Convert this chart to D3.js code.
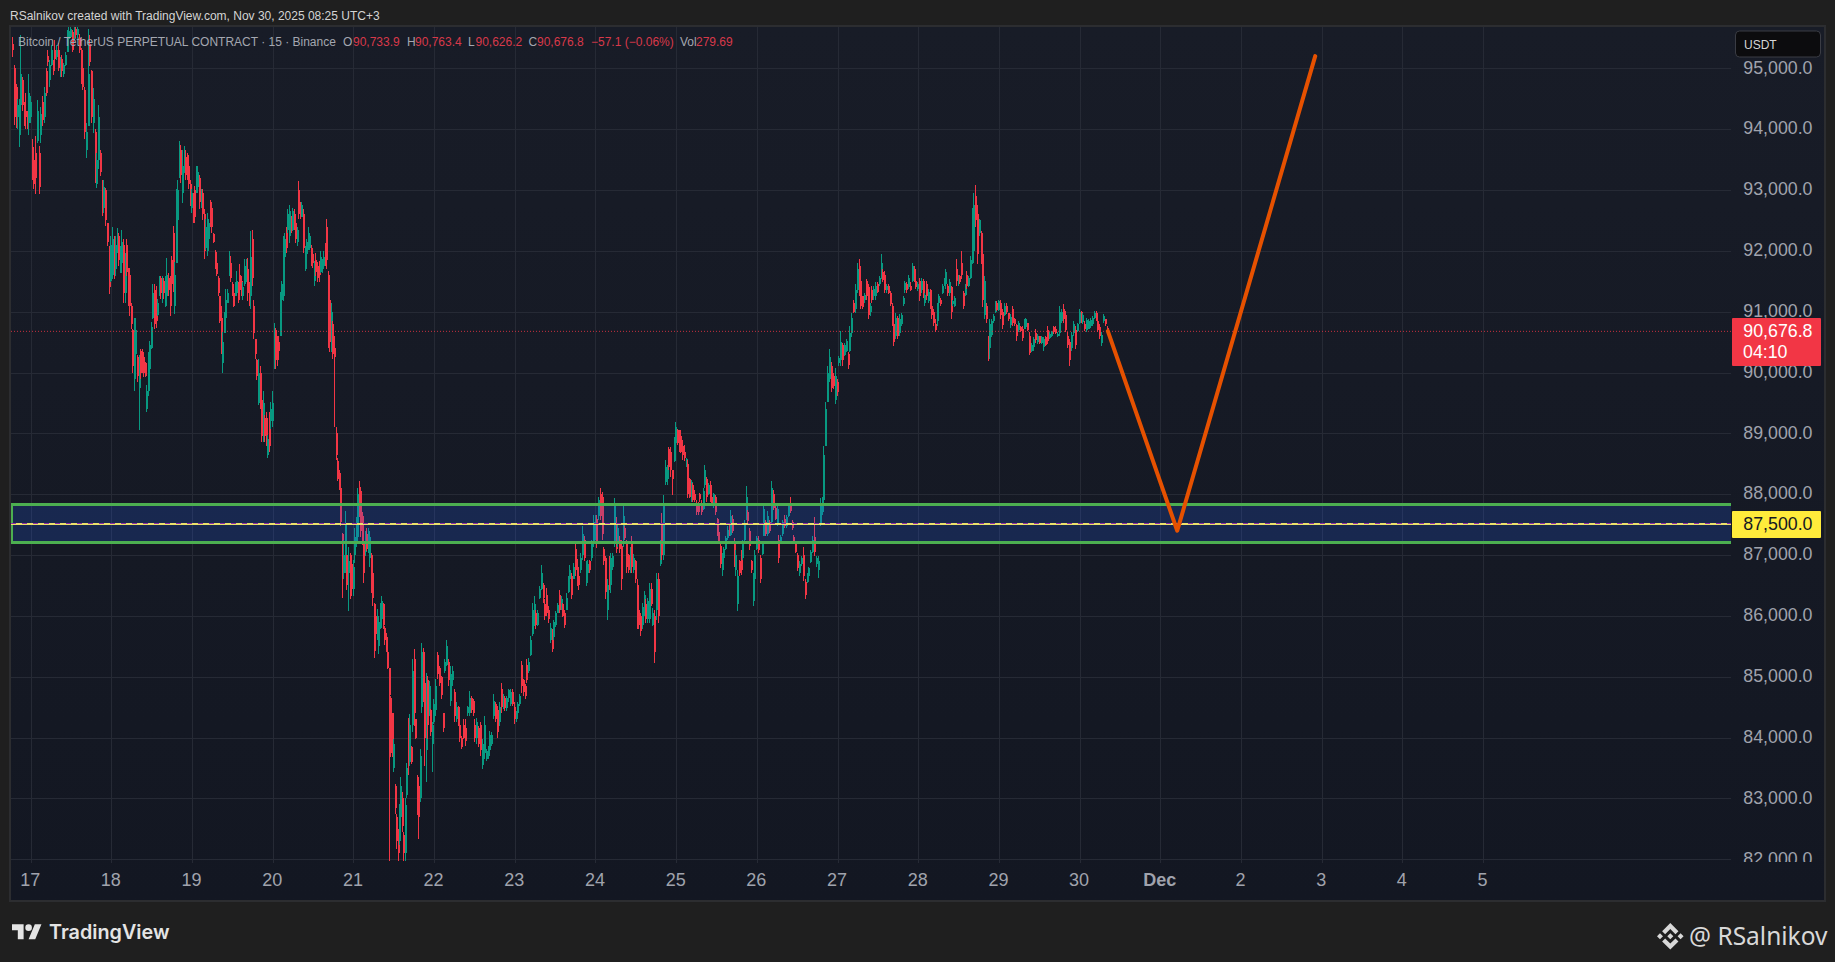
<!DOCTYPE html>
<html>
<head>
<meta charset="utf-8">
<title>BTCUSDT.P 15m</title>
<script src="https://cdn.jsdelivr.net/npm/d3@7"></script>
<style>
html, body { margin: 0; padding: 0; background: #1f1f1f; }
svg { display: block; }
text { font-family: "Liberation Sans", Arial, sans-serif; }
.grid line { stroke: #262a35; stroke-width: 1; shape-rendering: crispEdges; }
.grid path { display: none; }
.axis path, .axis line { display: none; }
.axis text { fill: #a0a3ad; font-size: 17.8px; }
</style>
</head>
<body>
<div id="chart"></div>
<script>
// candle rows are [open, high, low, close], one list per calendar day
const nov16 = [
[95400,95520,95180,95300],[95000,95050,94060,94200],[94700,94750,94020,94150],[94200,94500,94000,94400],
[93900,94500,93700,94300],[94400,95550,94100,94900],[94800,94850,94300,94400],[94400,94450,94050,94150],
[94300,94590,94000,94200],[94150,94300,94000,94050],[94100,94900,93900,94600],[94200,94550,94100,94450]];
const nov17 = [
[93700,93830,93170,93300],[93500,93660,93010,93100],[93600,93880,92930,93200],[93800,94480,93770,94300],
[93600,93720,92930,93050],[93900,94370,93770,94250],[94450,94540,94050,94150],[94200,94700,94100,94600],
[94950,95000,94540,94600],[95200,95300,95030,95100],[94800,95140,94700,95050],[95050,95380,95030,95300],
[95100,95140,94890,94950],[95300,95460,95080,95150],[95180,95380,95140,95300],[95300,95410,94950,95000],
[94900,95190,94860,95100],[95150,95220,94860,94950],[94900,95080,94860,95050],[95050,95270,95030,95220],
[95270,95630,95270,95550],[95480,95680,95460,95620],[95520,95700,95520,95650],[95600,95630,95270,95300],
[95480,95700,95460,95650],[95650,95700,95500,95550],[95550,95700,95500,95650],[95500,95570,95250,95300],
[95300,95330,94750,94800],[95000,95000,94650,94700],[94650,94700,93830,93950],[93650,94100,93530,93950],
[94050,95650,94050,94900],[95400,95550,95030,95100],[94950,94980,94100,94200],[94100,94670,93940,94500],
[93950,94000,93120,93250],[93100,93610,93030,93500],[93500,94400,93340,94200],[93600,93660,93230,93300],
[93150,93170,92570,92650],[92700,93170,92630,93050],[93000,93040,92410,92500],[92450,92460,92080,92150],
[92050,92080,91290,91400],[91500,92240,91480,92100]];
const nov18 = [
[91600,92400,91530,92200],[92150,92240,91530,91650],[91700,92240,91590,92100],[92000,92380,91970,92250],
[92250,92300,91750,91850],[91750,92080,91640,92000],[91800,92350,91640,92150],[92100,92190,91150,91300],
[91300,91970,91150,91800],[92100,92190,91590,91650],[91700,91720,91100,91200],[91600,91720,90930,91100],
[91100,91150,90710,90800],[90700,90710,90000,90100],[89900,90900,89700,90700],[90300,90900,90000,90700],
[90250,90280,89840,89950],[89750,90280,89050,90150],[90350,90390,89900,90000],[90300,90390,90000,90100],
[90250,90330,89920,90000],[90150,90170,89920,89950],[89400,89790,89350,89700],[89700,90330,89620,90200],
[90050,90520,90000,90450],[90400,90830,90390,90750],[90900,91450,90880,91300],[91350,91450,90710,90800],
[91200,91420,90740,90850],[90950,91210,90930,91150],[91300,91590,91260,91500],[91550,91590,91210,91300],
[91250,91590,91150,91500],[91500,91560,91210,91300],[91200,91590,91070,91500],[91250,91890,91100,91600],
[91550,91640,91260,91350],[91500,91590,90930,91100],[91850,91920,91370,91450],[92300,92410,91320,91500],
[91100,91810,90960,91600],[91800,93010,91810,92700],[92500,93170,92410,93000],[93200,93800,93230,93650],
[93650,93740,93120,93250],[92950,93660,92790,93400],[93350,93720,93280,93600],[93550,93660,93170,93250],
[93500,93610,93170,93250],[93400,93580,93010,93100],[93100,93170,92730,92800],[92700,93010,92630,92950]];
const nov19 = [
[92900,92950,92460,92550],[93000,93060,92460,92550],[92950,93390,92950,93300],[93050,93390,93060,93300],
[93200,93250,92680,92800],[92750,93010,92710,92950],[92950,93010,92510,92600],[92600,92680,91860,92000],
[92050,92520,92020,92400],[92000,92630,91920,92450],[92200,92520,92130,92450],[92750,92840,92400,92500],
[92700,92810,92300,92400],[92280,92300,92130,92150],[91980,92020,91700,91750],[91800,91830,91590,91620],
[91550,91590,91260,91300],[91250,91260,90820,90850],[90900,91100,90300,90400],[90150,90660,90000,90500],
[90650,90990,90660,90950],[90900,91370,90770,91200],[91150,91370,91150,91300],[91600,92000,91590,91900],
[91800,91920,91480,91550],[91450,91480,91260,91300],[91300,91370,91070,91100],[91300,91480,91260,91450],
[91300,91670,91260,91500],[91450,91480,91150,91200],[91600,91780,91260,91350],[91500,91590,91260,91350],
[91250,91480,91200,91400],[91450,91860,91420,91750],[91500,91860,91480,91750],[91700,91890,91180,91300],
[91400,91480,91100,91200],[91250,92320,91040,91900],[92200,92350,91420,91550],[91100,91200,90550,90650],
[90550,90550,90230,90300],[90200,90230,89870,89950],[89500,90230,89460,90000],[90000,90110,89400,89500],
[89550,89620,88860,88950],[89000,89700,88860,89500],[89250,89300,88860,88950],[89250,89350,88800,88900],
[88650,88970,88590,88900],[89250,89350,88690,88800],[89200,89510,89070,89400],[89200,89700,89100,89500]];
const nov20 = [
[90100,90820,90060,90600],[90700,90740,90060,90200],[90500,90600,90110,90200],[90500,90600,90300,90350],
[90600,91320,90600,91150],[91200,91510,91150,91450],[91250,92240,91180,92000],[91900,92300,91810,92200],
[92300,92400,91970,92050],[92350,92680,92300,92600],[92250,92760,92130,92650],[92500,92570,92300,92350],
[92350,92710,92320,92650],[92600,92680,92350,92400],[92450,92520,92130,92200],[92150,92400,92080,92350],
[93000,93150,92520,92600],[92750,92810,92520,92550],[92550,92810,92550,92750],[92600,92680,91970,92050],
[91700,92080,91670,92000],[91950,92190,91920,92150],[92100,92400,92020,92300],[92050,92300,92020,92250],
[92050,92100,91750,91800],[91950,92020,91720,91800],[91500,91830,91420,91750],[91850,91970,91590,91650],
[91750,91810,91480,91550],[91700,91830,91480,91600],[91650,91990,91640,91900],[91700,91860,91640,91800],
[91750,91990,91700,91900],[92050,92130,91750,91800],[92400,92520,91700,91850],[91600,91670,90410,90700],
[91200,91260,90330,90500],[90400,91150,90330,91000],[90800,90850,90220,90300],[90400,90600,89100,90250],
[89000,89100,88560,88650],[88550,88600,88210,88250],[88350,88400,88070,88100],[88100,88125,87470,87550],
[87350,87360,86300,86600],[86700,87250,86600,87000],[86900,87720,86700,87500],[87000,87000,86430,86500],
[86700,87140,86080,86900],[87000,87030,86270,86450],[86850,86920,86320,86450],[86450,86920,86320,86800]];
const nov21 = [
[87000,87440,86870,87300],[87200,87630,87140,87550],[87300,88100,87200,88000],[88100,88210,87630,87700],
[88050,88125,87300,87400],[87650,87710,87170,87250],[87200,87280,86540,86700],[87050,87390,86980,87300],
[87350,87440,87060,87100],[87050,87440,87030,87350],[86950,87390,86810,87300],[87000,87030,86380,86500],
[86700,86760,86160,86300],[86200,86210,85310,85800],[86000,86110,85420,85700],[85700,86110,85610,86000],
[85500,86000,85370,85900],[85800,86210,85780,86100],[85950,86320,85940,86250],[86200,86210,85780,85850],
[85800,85830,85530,85600],[85650,85720,85400,85450],[85400,85500,85120,85150],[85150,85150,81980,84700],
[84650,84690,83680,83750],[84400,84410,83680,83750],[83500,83980,83430,83900],[83200,83240,82750,82850],
[82700,82750,82170,82300],[82450,82500,81980,82100],[82300,82910,82230,82800],[82700,83350,82610,83200],
[83000,83100,82450,82550],[82400,82450,81980,82100],[82100,83000,81980,82900],[83050,83590,83000,83500],
[84200,84330,83380,83600],[83600,84380,83540,84200],[83850,83870,83570,83600],[84200,85290,84090,85100],
[85300,85450,84190,84400],[84300,84300,83980,84000],[83350,83380,82720,82800],[83200,83240,82340,82700],
[83000,83810,82940,83700],[84500,85560,84410,85400],[85400,85480,84580,84700],[84900,84930,83540,84000],
[83800,85070,83270,84800],[84950,85010,83980,84200],[84400,84930,84360,84850],[84450,84470,84030,84100],
[83900,84250,83430,84200],[84250,84630,84220,84550]];
const nov22 = [
[84450,84960,84360,84850],[85350,85400,84960,85050],[85150,85180,84850,84900],[85000,85010,84630,84700],
[84400,84410,84090,84150],[85100,85290,85070,85250],[85200,85610,85180,85500],[85250,85290,84850,84950],
[84600,85180,84520,85050],[84950,85180,84850,85100],[84750,84800,84250,84350],[84300,84580,84250,84500],
[84500,84520,84190,84250],[84200,84250,83920,84000],[84000,84030,83810,83850],[84200,84300,83980,84000],
[84150,84300,83870,83950],[84400,84520,84360,84500],[84400,84770,84360,84650],[84650,84690,84410,84450],
[84600,84630,84360,84400],[84200,84300,83920,84000],[84000,84330,83890,84250],[84150,84190,83840,83900],
[84200,84250,83700,83800],[83550,83980,83480,83900],[83750,84360,83650,84200],[83650,83810,83620,83780],
[83700,83870,83650,83850],[83800,84110,83700,84050],[83900,84090,83870,84050],[84350,84710,84300,84600],
[84550,84580,84250,84300],[84450,84520,84000,84100],[84250,84580,84190,84500],[84800,84900,84410,84500],
[84500,84710,84470,84680],[84650,84690,84440,84480],[84480,84690,84440,84650],[84650,84800,84580,84780],
[84550,84800,84520,84750],[84750,84800,84520,84550],[84500,84580,84220,84300]];
const nov23 = [
[84300,84440,84250,84400],[84400,84580,84360,84550],[84550,84710,84520,84680],[85200,85260,84740,84850],
[84950,84960,84690,84750],[84850,84880,84630,84680],[85200,85290,84900,84950],[85100,85310,85070,85250],
[85350,85670,85340,85600],[85700,86210,85670,86100],[85900,86320,85830,86200],[86050,86100,85780,85850],
[85850,86100,85830,86050],[86300,86490,86270,86450],[86450,86840,86430,86700],[86500,86540,86210,86300],
[86200,86270,85940,86000],[86350,86460,86000,86050],[86100,86160,85890,85950],[85600,85890,85560,85800],
[85700,85780,85400,85450],[85650,85940,85610,85900],[85850,86080,85810,86050],[86050,86210,86050,86180],
[86350,86430,86050,86100],[86100,86320,86100,86270],[86200,86210,85990,86000],[86050,86100,85800,85850],
[86100,86380,86100,86300],[86400,86650,86380,86600],[86600,86840,86540,86750],[86650,86700,86270,86350],
[86600,86870,86600,86800],[87100,87200,86650,86750],[86800,86930,86490,86550],[86650,86730,86430,86500],
[86750,87030,86700,86950],[87000,87470,86920,87350],[87250,87310,86900,86950],[86550,86900,86490,86800],
[86700,86920,86540,86850],[86900,86920,86700,86750],[86950,87250,86900,87200],[87200,87660,87140,87550],
[87300,87660,87250,87600]];
const nov24 = [
[87600,87660,87120,87200],[87650,87960,87580,87900],[88000,88100,87580,87650],[87950,88040,87250,87350],
[87100,87140,86840,86900],[86950,86980,86270,86400],[86100,86600,85940,86500],[86950,86980,86430,86500],
[86500,87030,86380,86950],[86800,87030,86760,86980],[87200,87930,87140,87800],[87500,87630,87030,87100],
[87200,87520,87140,87450],[87250,87310,87030,87100],[87150,87250,86430,86600],[87250,87800,87140,87650],
[87450,87470,87250,87280],[87200,87250,86710,86800],[87000,87010,86710,86750],[86800,87140,86710,87050],
[87200,87310,86710,86800],[86750,87010,86710,86950],[86900,86920,86540,86600],[86500,86600,85780,85900],
[86100,86160,85780,85850],[86000,86050,85670,85750],[85850,86210,85780,86150],[86100,86410,86000,86350],
[86200,86270,85890,85950],[85950,86300,85890,86250],[85950,86540,85890,86450],[86450,86540,86160,86200],
[85850,86130,85830,86050],[86000,86100,85230,85400],[86100,86710,85940,86600],[86600,86710,85890,86000],
[86850,87250,86820,87150],[87500,87690,86920,87000],[87000,87990,86920,87850],[88200,88560,88150,88450],
[88250,88480,88150,88400],[88750,88780,88400,88450],[88700,88780,88290,88400],[88400,88400,87990,88250],
[88550,88945,88536,88900],[88850,89180,88836,89100]];
const nov25 = [
[89050,89070,88810,88850],[89050,89050,88700,88750],[88950,89000,88670,88700],[88800,88890,88560,88650],
[88700,88810,88540,88600],[88500,88590,88450,88580],[88500,88560,87930,88000],[88250,88260,87930,87950],
[87950,88240,87880,88200],[88150,88180,87880,87900],[88000,88070,87880,87900],[87850,87910,87660,87700],
[87800,87880,87660,87700],[88000,88020,87880,87920],[87850,87910,87660,87700],[87750,88100,87740,88050],
[88150,88480,88100,88400],[88250,88290,87880,87950],[88000,88180,87990,88150],[88150,88210,87880,87950],
[87950,87960,87830,87850],[87850,88020,87770,88000],[87950,87990,87660,87700],[87600,87610,87310,87350],
[87380,87390,87200,87220],[87150,87200,86790,86850],[86750,87030,86650,86950],[86950,87140,86920,87100],
[87100,87310,87090,87280],[87280,87470,87250,87420],[87420,87500,87310,87330],[87330,87740,87310,87650],
[87600,87660,87360,87400],[87200,87280,86810,86850],[86750,87090,86650,87000],[86200,86760,86080,86650],
[86900,86920,86650,86700],[87050,87090,86680,86750],[86950,87250,86920,87200],[87250,87580,87200,87500],
[87600,88130,87580,87950],[87700,87740,87520,87560],[87400,87440,87090,87150],[86900,86920,86710,86750],
[86250,86710,86160,86600],[86600,87090,86540,87000],[87100,87310,87090,87280]];
const nov26 = [
[87250,87310,87030,87080],[86950,87000,86540,86600],[87010,87200,87000,87180],[87320,87850,87310,87750],
[87550,87580,87310,87350],[87350,87720,87310,87650],[87550,87580,87360,87400],[87550,88210,87520,88100],
[88000,88070,87740,87780],[87780,87800,87580,87600],[87500,87800,87470,87750],[87250,87330,86870,86950],
[87200,87330,87200,87300],[87350,87580,87310,87550],[87600,87660,87440,87480],[87480,87660,87440,87620],
[87650,87850,87630,87800],[87800,87960,87690,87720],[87550,87580,87420,87450],[87300,87330,87200,87220],
[87180,87200,87030,87050],[87000,87030,86730,86780],[86700,86900,86650,86850],[86850,86980,86820,86950],
[87000,87140,86570,86650],[86550,86600,86270,86350],[86550,86710,86540,86680],[86650,86810,86570,86780],
[86880,87090,86870,87050],[87050,87310,87030,87250],[87300,87630,86980,87050],[86850,86980,86810,86950],
[86750,86980,86620,86900],[87500,87930,87470,87850],[87700,87960,87660,87900],[87900,88800,87870,88650],
[88800,89510,88800,89400],[89520,90110,89510,90000],[89900,90390,89840,90250],[90100,90170,89680,89750],
[89950,90000,89730,89780],[89550,90080,89480,89950],[89850,89890,89620,89680]];
const nov27 = [
[90150,90270,90110,90240],[90200,90690,90110,90500],[90450,90490,90110,90200],[90280,90490,90270,90450],
[90350,90550,90330,90520],[90300,90330,90060,90120],[90350,90770,90330,90650],[90650,90980,90580,90900],
[91150,91200,90980,91000],[91050,91450,90980,91350],[91350,91800,91310,91700],[91750,91860,91260,91350],
[91500,91590,91040,91100],[91250,91260,91040,91080],[91200,91310,91150,91280],[91500,91530,91200,91250],
[91400,91450,90880,90950],[91000,91150,90930,91100],[91350,91420,91150,91200],[91250,91420,91200,91380],
[91250,91480,91200,91420],[91450,91480,91310,91330],[91450,91590,91420,91550],[91550,91940,91530,91800],
[91650,91700,91480,91520],[91600,91670,91310,91350],[91350,91450,91310,91420],[91420,91450,91290,91310],
[91300,91340,91090,91120],[91100,91150,90770,90820],[90800,90880,90440,90500],[90600,90980,90550,90900],
[90900,90930,90550,90600],[90650,90960,90600,90880],[90800,90980,90770,90950],[91120,91260,91090,91220],
[91350,91500,91310,91470],[91450,91480,91310,91350],[91400,91610,91370,91550],[91420,91480,91340,91360],
[91500,91800,91480,91750],[91700,91750,91480,91520],[91500,91530,91370,91400],[91380,91480,91340,91450]];
const nov28 = [
[91500,91560,91180,91250],[91350,91560,91310,91500],[91500,91530,91230,91300],[91150,91310,91090,91280],
[91450,91500,91200,91250],[91180,91370,91150,91330],[91350,91370,91040,91100],[91100,91200,90880,90950],
[91000,91040,90770,90820],[90800,90880,90660,90700],[90850,91150,90770,91100],[91150,91290,91090,91250],
[91200,91230,91090,91120],[91300,91450,91290,91420],[91430,91560,91420,91520],[91450,91700,91370,91650],
[91420,91450,91260,91300],[91300,91530,91260,91480],[91400,91420,90880,91000],[91130,91200,91090,91180],
[91100,91260,91070,91230],[91700,91860,91420,91500],[91500,91610,91420,91580],[91580,91610,91450,91480],
[91800,91990,91530,91600],[91300,91340,91040,91100],[91280,91450,91260,91420],[91600,91670,91370,91420],
[91430,91590,91400,91560],[91550,91910,91530,91850],[91800,92700,91780,92500],[92000,92950,91910,92750],
[92900,93090,92400,92500],[92600,92760,91780,91950],[92300,92520,92240,92500],[92300,92320,91780,91900],
[91950,91970,91070,91200],[90950,91590,90880,91500],[91100,91150,90820,90880],[90550,90600,90190,90250],
[90400,90880,90220,90800],[90620,90880,90580,90850],[90850,90960,90820,90930],[91000,91180,90980,91150],
[91150,91180,91010,91030],[91030,91200,91010,91180]];
const nov29 = [
[91150,91200,90880,90950],[91000,91040,90710,90780],[90950,91150,90930,91100],[91100,91150,90960,91000],
[90980,90980,90850,90880],[90780,90960,90740,90920],[91050,91090,90770,90820],[90880,90900,90770,90800],
[90780,90800,90520,90600],[90700,90850,90660,90820],[90750,90770,90660,90680],[90720,90770,90520,90560],
[90720,90880,90710,90850],[90750,90900,90710,90880],[90820,90820,90680,90700],[90600,90660,90290,90320],
[90360,90490,90330,90460],[90420,90580,90360,90550],[90650,90710,90490,90530],[90500,90630,90470,90600],
[90600,90600,90470,90490],[90480,90600,90470,90580],[90420,90580,90360,90550],[90580,90600,90440,90460],
[90700,90770,90470,90520],[90560,90660,90550,90640],[90600,90690,90580,90670],[90750,90770,90630,90660],
[90720,90770,90630,90650],[90600,90660,90580,90640],[90650,91090,90600,91000],[90850,91040,90820,91000],
[91050,91120,90820,90880],[90950,91010,90660,90700],[90600,90660,90410,90460],[90500,90550,90110,90200],
[90400,90660,90360,90620],[90650,90850,90600,90800],[90700,90770,90390,90450],[90680,90820,90660,90790],
[90820,91040,90800,91000]];
const nov30 = [
[91000,91010,90820,90850],[90830,90980,90800,90950],[90800,90850,90690,90710],[90700,90900,90660,90870],
[90720,90880,90710,90850],[90760,90900,90740,90870],[90800,90930,90770,90900],[90900,91010,90880,90980],
[90980,91010,90850,90880],[90850,90880,90660,90700],[90750,90800,90550,90600],[90480,90660,90440,90620],
[90850,90960,90820,90930],[90880,90880,90770,90800],[90733.9,90763.4,90626.2,90676.8]];

const dayLists = [nov16, nov17, nov18, nov19, nov20, nov21, nov22, nov23, nov24, nov25, nov26, nov27, nov28, nov29, nov30];
// day number of each list's first candle, then where the last list stops (Dec 1 is day 31)
const dayEdges = [16.765, 17, 18, 19, 20, 21, 22, 23, 24, 25, 26, 27, 28, 29, 30, 30.35];

const priceTicks = d3.range(82000, 95001, 1000);
const dayTicks = d3.range(17, 36);
const dayLabels = ["17", "18", "19", "20", "21", "22", "23", "24", "25", "26", "27", "28", "29", "30", "Dec", "2", "3", "4", "5"];

const lastPrice = 90676.8;
const lastCountdown = "04:10";
const levelPrice = 87500;
const zoneTop = 87830;
const zoneBottom = 87210;
const forecastDays = [30.35, 31.21, 32.92];
const forecastPrices = [90680, 87400, 95200];

const width = 1835, height = 962;
const pane = { left: 11, right: 1731, top: 27, bottom: 862 };
const axisLeft = 1732, axisRight = 1821;

const x = d3.scaleLinear().domain([17, 31]).range([30.67, 1160.3]);
const y = d3.scaleLinear().domain([82000, 95000]).range([859.3, 68.3]);

const svg = d3.select("#chart").append("svg").attr("width", width).attr("height", height);
const defs = svg.append("defs");

const gradient = defs.append("linearGradient").attr("id", "paneBg").attr("x1", 0).attr("y1", 0).attr("x2", 0).attr("y2", 1);
gradient.append("stop").attr("offset", "0%").attr("stop-color", "#181c27");
gradient.append("stop").attr("offset", "100%").attr("stop-color", "#131722");

defs.append("clipPath").attr("id", "paneClip").append("rect")
    .attr("x", pane.left).attr("y", pane.top)
    .attr("width", pane.right - pane.left).attr("height", pane.bottom - pane.top);
defs.append("clipPath").attr("id", "priceClip").append("rect")
    .attr("x", pane.right).attr("y", pane.top)
    .attr("width", 100).attr("height", pane.bottom - pane.top);

svg.append("rect").attr("width", width).attr("height", height).attr("fill", "#1f1f1f");
svg.append("rect").attr("x", 10).attr("y", 26).attr("width", 1815).attr("height", 875)
    .attr("fill", "url(#paneBg)").attr("stroke", "#2c2d30").attr("stroke-width", 2);

svg.append("text").attr("x", 10).attr("y", 19.5).attr("font-size", 12).attr("fill", "#d4d4d4")
    .text("RSalnikov created with TradingView.com, Nov 30, 2025 08:25 UTC+3");

// grid, through the same axes that print the labels
svg.append("g").attr("class", "grid")
    .attr("transform", "translate(" + pane.right + ",0)")
    .call(d3.axisLeft(y).tickValues(priceTicks).tickSize(pane.right - pane.left).tickFormat(""));
svg.append("g").attr("class", "grid")
    .attr("transform", "translate(0," + (pane.bottom + 1) + ")")
    .call(d3.axisTop(x).tickValues(dayTicks).tickSize(pane.bottom + 1 - pane.top).tickFormat(""));

// spread each day's rows evenly over that day
const candles = [];
dayLists.forEach(function(rows, d) {
    const step = (dayEdges[d + 1] - dayEdges[d]) / rows.length;
    rows.forEach(function(r, i) {
        candles.push({ day: dayEdges[d] + (i + 0.5) * step, open: r[0], high: r[1], low: r[2], close: r[3] });
    });
});

const candleColor = function(c) { return c.close >= c.open ? "#089981" : "#f23645"; };

const plot = svg.append("g").attr("clip-path", "url(#paneClip)");
const candleG = plot.selectAll("g.candle").data(candles).enter().append("g").attr("class", "candle");
candleG.append("line")
    .attr("x1", function(c) { return Math.round(x(c.day)) + 0.5; })
    .attr("x2", function(c) { return Math.round(x(c.day)) + 0.5; })
    .attr("y1", function(c) { return y(c.high); })
    .attr("y2", function(c) { return y(c.low); })
    .attr("stroke", candleColor)
    .attr("shape-rendering", "crispEdges");
candleG.append("rect")
    .attr("x", function(c) { return Math.round(x(c.day)); })
    .attr("width", 2)
    .attr("y", function(c) { return y(Math.max(c.open, c.close)); })
    .attr("height", function(c) { return Math.max(1, Math.abs(y(c.open) - y(c.close))); })
    .attr("fill", candleColor)
    .attr("shape-rendering", "crispEdges");

// last price line
plot.append("line")
    .attr("x1", pane.left).attr("x2", pane.right)
    .attr("y1", y(lastPrice)).attr("y2", y(lastPrice))
    .attr("stroke", "#f23645").attr("stroke-opacity", 0.8).attr("stroke-dasharray", "1 2");

// support zone drawn over the candles
plot.append("rect")
    .attr("x", pane.left + 1).attr("width", pane.right - pane.left)
    .attr("y", y(zoneTop)).attr("height", y(zoneBottom) - y(zoneTop))
    .attr("fill", "#2962ff").attr("fill-opacity", 0.2);
[zoneTop, zoneBottom].forEach(function(p) {
    plot.append("line")
        .attr("x1", pane.left).attr("x2", pane.right)
        .attr("y1", y(p)).attr("y2", y(p))
        .attr("stroke", "#4caf50").attr("stroke-width", 3)
        .attr("shape-rendering", "crispEdges");
});
plot.append("line")
    .attr("x1", pane.left + 1).attr("x2", pane.left + 1)
    .attr("y1", y(zoneTop)).attr("y2", y(zoneBottom))
    .attr("stroke", "#4caf50").attr("stroke-width", 2)
    .attr("shape-rendering", "crispEdges");
// the level line is yellow with the zone's purple dashes on it
plot.append("line")
    .attr("x1", pane.left).attr("x2", pane.right)
    .attr("y1", y(levelPrice) - 1).attr("y2", y(levelPrice) - 1)
    .attr("stroke", "#ece06a").attr("stroke-width", 2)
    .attr("shape-rendering", "crispEdges");
plot.append("line")
    .attr("x1", pane.left).attr("x2", pane.right)
    .attr("y1", y(levelPrice) - 1.5).attr("y2", y(levelPrice) - 1.5)
    .attr("stroke", "#8e2fa8").attr("stroke-width", 1).attr("stroke-dasharray", "5 6")
    .attr("shape-rendering", "crispEdges");

// forecast
const forecastLine = d3.line()
    .x(function(d) { return x(d); })
    .y(function(d, i) { return y(forecastPrices[i]); });
plot.append("path")
    .attr("d", forecastLine(forecastDays))
    .attr("fill", "none").attr("stroke", "#e65100").attr("stroke-width", 4)
    .attr("stroke-linecap", "round").attr("stroke-linejoin", "round");

// legend line
const legendGrey = "#a4a7b0", legendRed = "#d8394a";
const legendItems = [
    ["Bitcoin / TetherUS PERPETUAL CONTRACT \u00b7 15 \u00b7 Binance", 18, legendGrey],
    ["O", 343, legendGrey], ["90,733.9", 353, legendRed],
    ["H", 407, legendGrey], ["90,763.4", 415, legendRed],
    ["L", 468, legendGrey], ["90,626.2", 475.5, legendRed],
    ["C", 528.6, legendGrey], ["90,676.8", 537, legendRed],
    ["\u221257.1 (\u22120.06%)", 591, legendRed],
    ["Vol", 680, legendGrey], ["279.69", 696, legendRed]
];
svg.append("g").selectAll("text").data(legendItems).enter().append("text")
    .attr("x", function(d) { return d[1]; })
    .attr("y", 46)
    .attr("font-size", 12)
    .attr("fill", function(d) { return d[2]; })
    .text(function(d) { return d[0]; });

// price labels, the lowest is cut by the pane bottom
svg.append("g").attr("clip-path", "url(#priceClip)").append("g").attr("class", "axis")
    .attr("transform", "translate(1812.5,-1)")
    .call(d3.axisLeft(y).tickValues(priceTicks).tickSize(0).tickPadding(0).tickFormat(d3.format(",.1f")));

svg.append("g").attr("class", "axis")
    .attr("transform", "translate(-1," + (pane.bottom + 11) + ")")
    .call(d3.axisBottom(x).tickValues(dayTicks).tickSize(0).tickPadding(0)
        .tickFormat(function(d, i) { return dayLabels[i]; }))
    .selectAll("text")
    .attr("font-size", 18).style("font-size", "18px")
    .attr("font-weight", function(d) { return d === 31 ? "bold" : null; });

// price tags
svg.append("rect").attr("x", axisLeft).attr("y", 318).attr("width", axisRight - axisLeft).attr("height", 48)
    .attr("rx", 1).attr("fill", "#f23645");
svg.append("text").attr("x", 1812.5).attr("y", y(lastPrice) + 5.5).attr("text-anchor", "end")
    .attr("font-size", 17.8).attr("fill", "#ffffff").text(d3.format(",.1f")(lastPrice));
svg.append("text").attr("x", 1743).attr("y", 358).attr("font-size", 17.8).attr("fill", "#ffffff").text(lastCountdown);

svg.append("rect").attr("x", axisLeft).attr("y", 511).attr("width", axisRight - axisLeft).attr("height", 27)
    .attr("rx", 1).attr("fill", "#ffeb3b");
svg.append("text").attr("x", 1812.5).attr("y", y(levelPrice) + 5.5).attr("text-anchor", "end")
    .attr("font-size", 17.8).attr("fill", "#131722").text(d3.format(",.1f")(levelPrice));

svg.append("rect").attr("x", 1735.5).attr("y", 31).attr("width", 85).attr("height", 26)
    .attr("rx", 4).attr("fill", "#0c0c0e").attr("stroke", "#3a3c44");
svg.append("text").attr("x", 1744).attr("y", 49).attr("font-size", 12).attr("fill", "#d6d6d6").text("USDT");

// TradingView mark and name
const logo = svg.append("g").attr("transform", "translate(12,921) scale(0.83)").attr("fill", "#e4e4e4");
logo.append("path").attr("d", "M14 22H7V11H0V4h14v18zM28 22h-8l7.5-18h8L28 22z");
logo.append("circle").attr("cx", 20).attr("cy", 8).attr("r", 4);
svg.append("text").attr("x", 49).attr("y", 939)
    .style("font-family", "Inter, sans-serif").attr("font-size", 19.8).attr("font-weight", 600)
    .attr("fill", "#e4e4e4").text("TradingView");

// Binance diamond and author name, bottom right
svg.append("g").attr("transform", "translate(1657,923) scale(0.21)").attr("fill", "#d8d8d8")
    .append("path")
    .attr("d", "M38.73 53.2l24.59-24.58 24.6 24.6 14.3-14.31L63.32 0 24.43 38.9z"
        + "M0 63.31l14.3-14.31 14.31 14.31-14.31 14.3z"
        + "M38.73 73.41l24.59 24.59 24.6-24.6 14.31 14.29-38.9 38.91-38.91-38.88z"
        + "M98 63.31l14.3-14.31 14.31 14.3-14.31 14.32z"
        + "M77.83 63.3L63.32 48.78 48.81 63.28l14.51 14.5z");
svg.append("text").attr("x", 1689).attr("y", 945)
    .style("font-family", "'Noto Sans', sans-serif").attr("font-size", 24.5).attr("fill", "#d8d8d8")
    .text("@ RSalnikov");
</script>
</body>
</html>
